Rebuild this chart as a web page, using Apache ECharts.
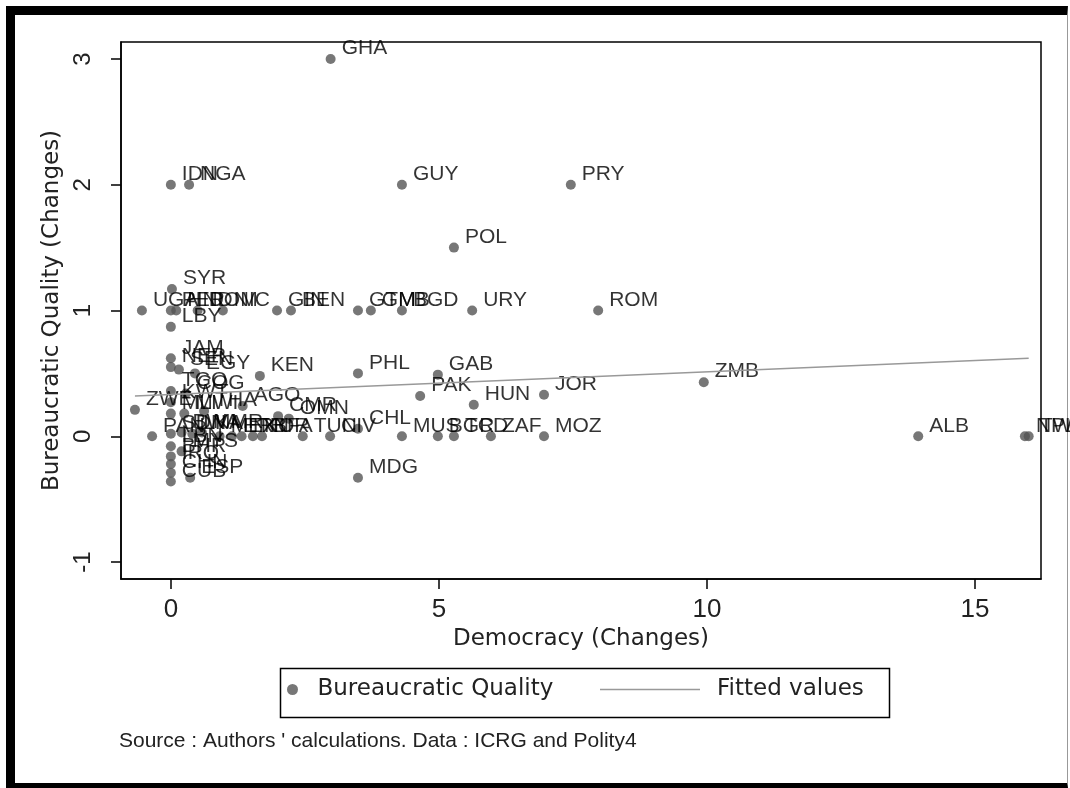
<!DOCTYPE html>
<html>
<head>
<meta charset="utf-8">
<script src="https://cdn.jsdelivr.net/npm/echarts@6/dist/echarts.min.js"></script>
<style>
html, body { margin: 0; padding: 0; background: #fff; }
#frame { position: absolute; left: 6px; top: 6px; width: 1062px; height: 782px; box-sizing: border-box;
  border-top: 9px solid #000; border-left: 9px solid #000; border-bottom: 5px solid #000; border-right: 1px solid #999; }
#chart { position: absolute; left: 0; top: 0; width: 1070px; height: 788px; }
</style>
</head>
<body>
<div id="frame"></div>
<div id="chart"></div>
<script>
// country codes, democracy change (x), bureaucratic quality change (y)
var countries = ['GHA','IDN','NGA','GUY','PRY','POL','ROM','URY','GTM','GMB','BGD','GIN','BEN','UGA','SYR','PER','HND','DOM','NIC','LBY',
  'JAM','NER','SEN','EGY','KEN','PHL','GAB','TGO','COG','PAK','JOR','HUN','ZMB','ZWE','MLI','MWI','THA','AGO','CMR','OMN',
  'KWT','PAN','SDN','BWA','LKA','MMR','MEX','ETH','IRN','KOR','BFA','TUN','CIV','CHL','MUS','BGR','TCD','ZAF','MOZ','ALB',
  'NPL','TWN','MDG','LBN','BHR','MYS','IRQ','CHN','ESP','CUB'];
var democracy = [2.98, 0, 0.34, 4.31, 7.46, 5.28, 7.97, 5.62, 3.49, 3.73, 4.31, 1.98, 2.24, -0.54, 0.02, 0, 0.1, 0.5, 0.97, 0,
  0, 0, 0.15, 0.45, 1.66, 3.49, 4.98, 0, 0.28, 4.65, 6.96, 5.65, 9.94, -0.67, 0, 0.25, 0.62, 1.34, 2.0, 2.2,
  0, -0.35, 0, 0.2, 0.4, 0.58, 0.91, 1.14, 1.32, 1.53, 1.7, 2.46, 2.97, 3.49, 4.31, 4.98, 5.28, 5.97, 6.96, 13.94,
  15.93, 16.0, 3.49, 0, 0, 0.2, 0, 0, 0.36, 0];
var bureau = [3.0, 2.0, 2.0, 2.0, 2.0, 1.5, 1.0, 1.0, 1.0, 1.0, 1.0, 1.0, 1.0, 1.0, 1.17, 1.0, 1.0, 1.0, 1.0, 0.87,
  0.62, 0.55, 0.53, 0.5, 0.48, 0.5, 0.49, 0.36, 0.34, 0.32, 0.33, 0.25, 0.43, 0.21, 0.18, 0.18, 0.2, 0.24, 0.16, 0.14,
  0.27, 0, 0.02, 0.03, 0.02, 0.03, 0, 0, 0, 0, 0, 0, 0, 0.06, 0, 0, 0, 0, 0, 0,
  0, 0, -0.33, -0.08, -0.16, -0.12, -0.22, -0.29, -0.33, -0.36];

// fitted line end points
var fitX = [-0.67, 16];
var fitY = [0.32, 0.62];

var xTicks = [0, 5, 10, 15];
var yTicks = [-1, 0, 1, 2, 3];

var myChart = echarts.init(document.getElementById('chart'));

var points = countries.map(function(c, i) {
    return { name: c, value: [democracy[i], bureau[i]] };
});
var fitted = fitX.map(function(x, i) {
    return [x, fitY[i]];
});

var font = 'Arial, "Liberation Sans", sans-serif';
var wide = '"DejaVu Sans", sans-serif';

var option = {
    animation: false,
    title: {
        text: "Source : Authors ' calculations. Data : ICRG and Polity4",
        left: 114,
        top: 726,
        textStyle: { fontSize: 21, fontWeight: 'normal', fontFamily: font, color: '#222' }
    },
    grid: {
        left: 121, right: 29, top: 42, bottom: 209,
        show: true, borderColor: '#000', borderWidth: 1.5,
        outerBoundsMode: 'none'
    },
    xAxis: {
        type: 'value',
        min: -0.93, max: 16.23,
        name: 'Democracy (Changes)',
        nameLocation: 'middle',
        nameGap: 45,
        nameTextStyle: { fontSize: 23, fontFamily: wide, color: '#222' },
        axisLine: { show: true, onZero: false, lineStyle: { color: '#000', width: 1.5 } },
        axisTick: { show: true, length: 10, customValues: xTicks, lineStyle: { color: '#000', width: 1.5 } },
        axisLabel: { customValues: xTicks, margin: 18, fontSize: 26, fontFamily: font, color: '#222' },
        splitLine: { show: false }
    },
    yAxis: {
        type: 'value',
        min: -1.135, max: 3.135,
        name: 'Bureaucratic Quality (Changes)',
        nameLocation: 'middle',
        nameGap: 45,
        nameRotate: 90,
        nameTextStyle: { fontSize: 23, fontFamily: wide, color: '#222' },
        axisLine: { show: true, onZero: false, lineStyle: { color: '#000', width: 1.5 } },
        axisTick: { show: true, length: 10, customValues: yTicks, lineStyle: { color: '#000', width: 1.5 } },
        axisLabel: { customValues: yTicks, rotate: 90, margin: 26, fontSize: 24, fontFamily: font, color: '#222' },
        splitLine: { show: false }
    },
    legend: [
        {
            data: [{ name: 'Bureaucratic Quality', icon: 'circle' }],
            left: 282, top: 673,
            itemWidth: 40, itemHeight: 11,
            textStyle: { fontSize: 23, fontFamily: wide, color: '#222' }
        },
        {
            data: [{ name: 'Fitted values', icon: 'rect', itemStyle: { color: '#999' } }],
            left: 595, top: 673,
            itemWidth: 100, itemHeight: 1.5,
            textStyle: { fontSize: 23, fontFamily: wide, color: '#222', padding: [0, 0, 0, 12] }
        }
    ],
    graphic: [
        {
            type: 'rect',
            left: 278, top: 666,
            shape: { width: 609, height: 49 },
            style: { fill: 'none', stroke: '#000', lineWidth: 1.5 }
        }
    ],
    series: [
        {
            name: 'Bureaucratic Quality',
            type: 'scatter',
            data: points,
            symbol: 'circle',
            symbolSize: 10,
            itemStyle: { color: '#555' },
            label: {
                show: true,
                // label sits up and to the right of its marker
                position: [16, -16],
                formatter: '{b}',
                fontSize: 21,
                fontFamily: font,
                color: '#000'
            }
        },
        {
            name: 'Fitted values',
            type: 'line',
            data: fitted,
            symbol: 'none',
            itemStyle: { color: '#999' },
            lineStyle: { color: '#999', width: 1.5 }
        }
    ]
};

myChart.setOption(option);
</script>
</body>
</html>
